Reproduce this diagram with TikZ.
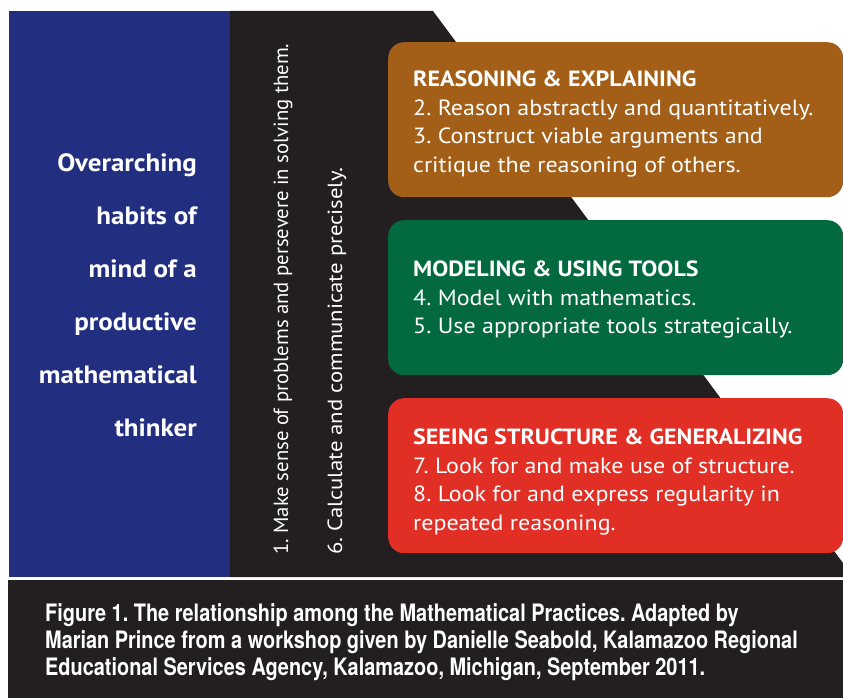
\documentclass[tikz,border=0pt]{standalone}
\usepackage{fontspec}
\setmainfont{PT Sans}[FakeStretch=1.09]
\newfontfamily\habitfont{PT Sans}[FakeStretch=1.08]
\newfontfamily\sidefontA{PT Sans}[FakeStretch=1.01]
\newfontfamily\sidefontB{PT Sans}[FakeStretch=1.11]
\newfontfamily\capfont{TeX Gyre Heros}[FakeStretch=0.83]
\usetikzlibrary{positioning}
\definecolor{habitblue}{RGB}{34,46,128}
\definecolor{darkbg}{RGB}{35,31,32}
\definecolor{reasoning}{RGB}{163,95,23}
\definecolor{modeling}{RGB}{3,106,63}
\definecolor{structure}{RGB}{225,47,38}
\frenchspacing

\begin{document}
\begin{tikzpicture}[x=1pt, y=-1pt,
  practice/.style={rectangle, rounded corners=16pt, fill=#1, inner sep=0pt,
    minimum width=455pt, minimum height=155pt, anchor=north west},
  boxtext/.style={text=white, align=left, anchor=north west, inner sep=0pt,
    font=\fontsize{22}{28.5}\selectfont},
  sidetext/.style={text=white, rotate=90, anchor=west, inner sep=0pt}]
\useasboundingbox (0,0) rectangle (843,698);
% Background panels
\fill[habitblue] (9,11) rectangle (230,577);
\fill[darkbg] (230,11) -- (433,11) -- (843,563) -- (843,577) -- (230,577) -- cycle;
\fill[darkbg] (8,579.5) rectangle (843,698);

% Overarching habits
\node[text=white, align=right, anchor=north east, inner sep=0pt,
  font=\habitfont\bfseries\fontsize{25}{53}\selectfont] (habits) at (197,153)
  {Overarching\\habits of\\mind of a\\productive\\mathematical\\thinker};
\node[sidetext, font=\sidefontA\fontsize{20.5}{24}\selectfont] (mp1) at (283,555)
  {1. Make sense of problems and persevere in solving them.};
\node[sidetext, font=\sidefontB\fontsize{20.5}{24}\selectfont] (mp6) at (337,555)
  {6. Calculate and communicate precisely.};

% Practice groups
\node[practice=reasoning] (reason) at (388,42) {};
\node[practice=modeling] (model) at (388,220) {};
\node[practice=structure] (struct) at (388,398) {};
\node[boxtext] (reasontext) at (413,71)
  {\textbf{REASONING \& EXPLAINING}\\2. Reason abstractly and quantitatively.\\3. Construct viable arguments and\\critique the reasoning of others.};
\node[boxtext] (modeltext) at (413,261)
  {\textbf{MODELING \& USING TOOLS}\\4. Model with mathematics.\\5. Use appropriate tools strategically.};
\node[boxtext] (structtext) at (413,429)
  {\textbf{SEEING STRUCTURE \& GENERALIZING}\\7. Look for and make use of structure.\\8. Look for and express regularity in\\repeated reasoning.};

% Caption
\node[text=white, align=left, anchor=north west, inner sep=0pt,
  font=\capfont\bfseries\fontsize{24}{27}\selectfont] (caption) at (45,603)
  {Figure 1. The relationship among the Mathematical Practices. Adapted by\\Marian Prince from a workshop given by Danielle Seabold, Kalamazoo Regional\\Educational Services Agency, Kalamazoo, Michigan, September 2011.};
\end{tikzpicture}
\end{document}
